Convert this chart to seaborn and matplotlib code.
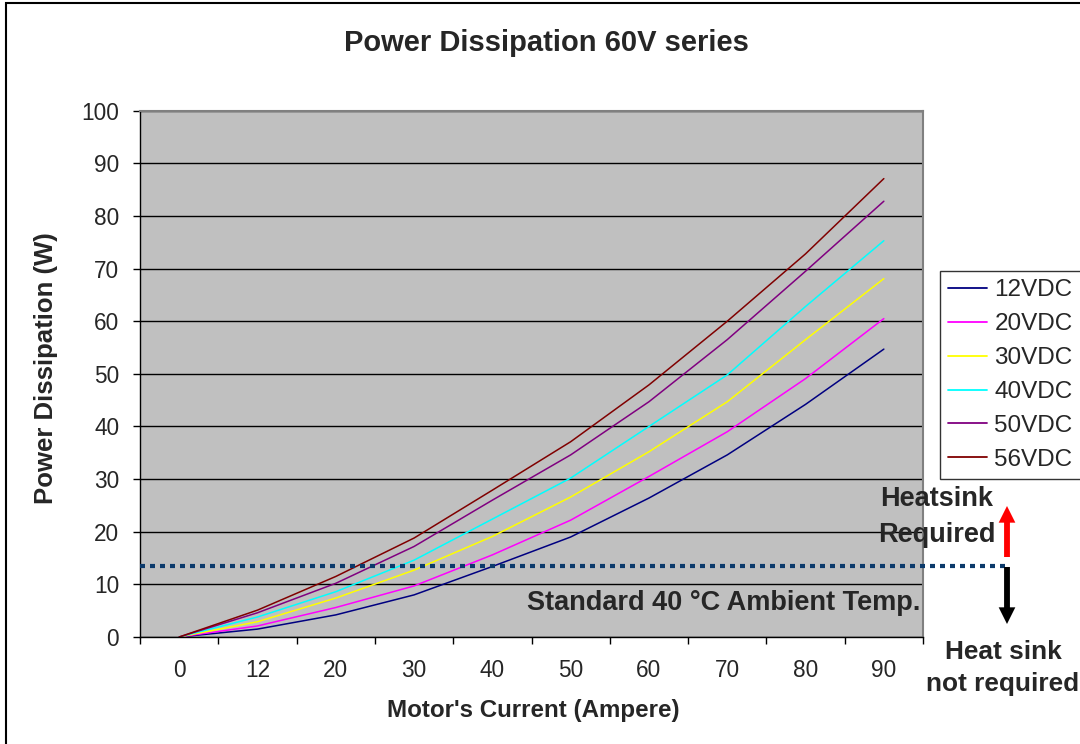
import matplotlib
matplotlib.use("Agg")
import matplotlib.pyplot as plt
import matplotlib.patches as mpatches
import numpy as np
import pandas as pd
import seaborn as sns

# Motor current categories (A) and power dissipation (W) per supply voltage
currents = ["0", "12", "20", "30", "40", "50", "60", "70", "80", "90"]
series_names = ["12VDC", "20VDC", "30VDC", "40VDC", "50VDC", "56VDC"]
p_12vdc = [0, 1.5, 4.2, 8.0, 13.4, 19.0, 26.4, 34.6, 44.2, 54.7]
p_20vdc = [0, 2.1, 5.6, 9.7, 15.6, 22.2, 30.5, 39.0, 49.1, 60.5]
p_30vdc = [0, 2.9, 7.4, 12.7, 19.1, 26.6, 35.2, 44.7, 56.5, 68.1]
p_40vdc = [0, 3.8, 8.6, 14.6, 22.4, 30.2, 40.0, 49.8, 62.8, 75.3]
p_50vdc = [0, 4.6, 10.2, 17.2, 26.0, 34.6, 44.7, 56.5, 69.5, 82.8]
p_56vdc = [0, 5.1, 11.5, 18.8, 27.9, 37.1, 47.9, 60.0, 72.8, 87.1]
ambient_threshold = 13.4  # W, limit at standard 40 °C ambient

palette = ["#000080", "#FF00FF", "#FFFF00", "#00FFFF", "#800080", "#800000"]

values = [p_12vdc, p_20vdc, p_30vdc, p_40vdc, p_50vdc, p_56vdc]
df = pd.DataFrame({
    "current": np.tile(currents, len(series_names)),
    "power": np.concatenate(values),
    "series": np.repeat(series_names, len(currents)),
})

sns.set_style("white")
plt.rcParams["font.family"] = ["Liberation Sans", "DejaVu Sans"]

W, H = 1080, 744
fig = plt.figure(figsize=(W / 100, H / 100), dpi=100)
ax = fig.add_axes([140 / W, 1 - 637 / H, 783 / W, 526.3 / H])
ax.set_facecolor("#C0C0C0")

sns.lineplot(data=df, x="current", y="power", hue="series", palette=palette,
             hue_order=series_names, sort=False, linewidth=1.1, ax=ax,
             legend=True)

ax.set_xlim(-0.5, len(currents) - 0.5)
ax.set_ylim(0, 100)
ax.set_yticks(np.arange(0, 101, 10))
ax.set_xticks(range(len(currents)))
ax.set_xticklabels(currents)
ax.set_xticks(np.arange(-0.5, len(currents), 1.0), minor=True)
ax.tick_params(axis="x", which="major", length=0, pad=16, labelsize=16.3)
ax.tick_params(axis="x", which="minor", length=5, width=1, color="black",
               direction="out", bottom=True)
ax.tick_params(axis="y", which="major", length=5, width=1, color="black",
               direction="out", left=True, pad=10, labelsize=16.3)

ax.yaxis.grid(True, color="black", linewidth=1.0)
ax.xaxis.grid(False)
ax.set_axisbelow(True)

for side in ["left", "bottom"]:
    ax.spines[side].set_color("black")
    ax.spines[side].set_linewidth(1.0)
for side in ["top", "right"]:
    ax.spines[side].set_color("#808080")
    ax.spines[side].set_linewidth(1.5)

ax.set_xlabel("")
ax.set_ylabel("")
fig.text(533 / W, 1 - 711 / H, "Motor's Current (Ampere)", ha="center",
         va="center", fontsize=17.4, fontweight="bold")
fig.text(46 / W, 1 - 368 / H, "Power Dissipation (W)", ha="center",
         va="center", rotation=90, fontsize=18.5, fontweight="bold")
fig.text(546 / W, 1 - 43 / H, "Power Dissipation 60V series",
         ha="center", va="center", fontsize=21, fontweight="bold")

# Legend on the right of the plot area
handles, labels = ax.get_legend_handles_labels()
leg = ax.legend(handles, labels, loc="upper left",
                bbox_to_anchor=(940 / W, 1 - 271 / H),
                bbox_transform=fig.transFigure, frameon=True, fancybox=False,
                fontsize=17.5, handlelength=1.6, handletextpad=0.3,
                labelspacing=0.49, borderpad=0.34, borderaxespad=0)
leg.get_frame().set_edgecolor("black")
leg.get_frame().set_linewidth(1.0)
leg.get_frame().set_facecolor("white")
for line in leg.get_lines():
    line.set_linewidth(1.3)

# Ambient temperature limit, extended past the plot area
ax.axhline(ambient_threshold, xmin=0, xmax=(1005 - 140) / 783,
           color="#0B3A6B", linewidth=3.0, linestyle=(0, (1.2, 1.2)),
           clip_on=False, zorder=5)

ax.text(0.745, 0.065, "Standard 40 \u00b0C Ambient Temp.", transform=ax.transAxes,
        ha="center", va="center", fontsize=19.5, fontweight="bold")

fig.text(937 / W, 1 - 499 / H, "Heatsink", ha="center", va="center",
         fontsize=19.5, fontweight="bold")
fig.text(937 / W, 1 - 535 / H, "Required", ha="center", va="center",
         fontsize=19.5, fontweight="bold")
fig.text(1003 / W, 1 - 652 / H, "Heat sink", ha="center", va="center",
         fontsize=18.9, fontweight="bold")
fig.text(1003 / W, 1 - 684 / H, "not required", ha="center", va="center",
         fontsize=18.9, fontweight="bold")

# Up / down arrows next to the limit line
arrow_style = "simple,head_length=1.2,head_width=1.2,tail_width=0.42"
arrow_x = 1007 / W
fig.add_artist(mpatches.FancyArrowPatch(
    (arrow_x, 1 - 557 / H), (arrow_x, 1 - 506 / H), arrowstyle=arrow_style,
    mutation_scale=10, shrinkA=0, shrinkB=0, color="#FF0000", lw=0,
    transform=fig.transFigure))
fig.add_artist(mpatches.FancyArrowPatch(
    (arrow_x, 1 - 567 / H), (arrow_x, 1 - 624 / H), arrowstyle=arrow_style,
    mutation_scale=10, shrinkA=0, shrinkB=0, color="#000000", lw=0,
    transform=fig.transFigure))

# Chart border
fig.add_artist(mpatches.Rectangle((6 / W, -0.1), 1.2, 1.1 - 3 / H,
                                  transform=fig.transFigure, fill=False,
                                  edgecolor="black", linewidth=1.5))

fig.savefig("out.png", dpi=100)
